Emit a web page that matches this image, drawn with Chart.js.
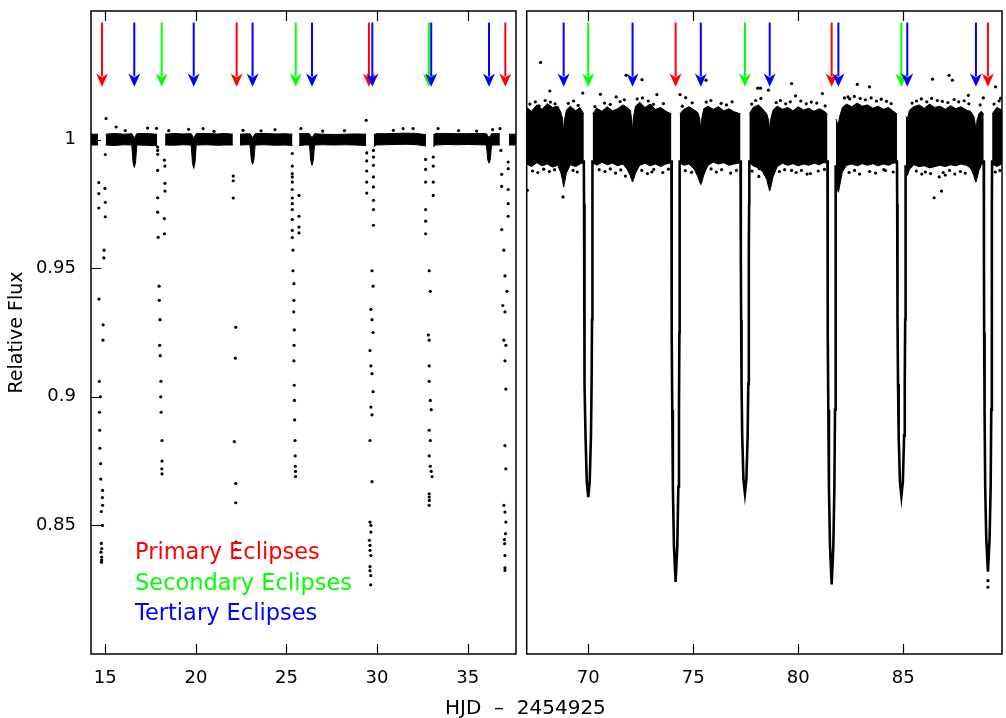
<!DOCTYPE html>
<html>
<head>
<meta charset="utf-8">
<script src="https://cdn.jsdelivr.net/npm/chart.js@4.4.1/dist/chart.umd.min.js"></script>
<style>
  body { margin: 0; background: #fff; }
  #wrap { position: relative; width: 1006px; height: 718px; background: #fff; overflow: hidden; }
  #left { position: absolute; left: 0; top: 0; }
  #right { position: absolute; left: 520px; top: 0; }
  #xtitle { position: absolute; left: 445px; top: 696px; font: 20px "DejaVu Sans", sans-serif; line-height: 22px; white-space: pre; color: #000; }
</style>
</head>
<body>
<div id="wrap">
  <canvas id="left" width="520" height="718"></canvas>
  <canvas id="right" width="486" height="718"></canvas>
  <div id="xtitle">HJD  –  2454925</div>
</div>
<script>
// axis ticks
var xTicksLeft = [15, 20, 25, 30, 35];
var xTicksRight = [70, 75, 80, 85];
var yTicks = [0.85, 0.9, 0.95, 1];

// eclipse times (arrows)
var primaryTimes = [14.82, 22.25, 29.55, 37.08, 74.16, 81.59, 89.03];
var secondaryTimes = [18.11, 25.51, 32.86, 70.00, 77.46, 84.91];
var tertiaryTimes = [16.60, 19.88, 23.13, 26.41, 29.74, 32.99, 36.18, 68.83, 72.11, 75.36, 78.64, 81.91, 85.19, 88.46];

// long cadence baseline (envelope of the out-of-eclipse points), null = gap
var leftBandX  = [14.21, 14.60, null,
  15.02, 15.5, 16.0, 16.46, 16.53, 16.60, 16.67, 16.74, 17.2, 17.86, null,
  18.30, 18.8, 19.3, 19.74, 19.81, 19.88, 19.95, 20.02, 20.6, 21.2, 21.6, 22.04, null,
  22.43, 22.9, 22.99, 23.06, 23.13, 23.20, 23.27, 23.8, 24.4, 24.9, 25.33, null,
  25.70, 26.0, 26.27, 26.34, 26.41, 26.48, 26.55, 27.0, 27.6, 28.2, 28.8, 29.40, null,
  29.82, 29.95, 30.4, 31.0, 31.6, 32.2, 32.70, null,
  33.10, 33.25, 33.8, 34.4, 35.0, 35.6, 36.04, 36.11, 36.18, 36.25, 36.32, 36.78, null,
  37.28, 37.67];
var leftBandHi = [1.0021, 1.0021, null,
  1.0021, 1.0024, 1.0021, 1.0023, 1.0015, 1.0005, 1.0015, 1.0023, 1.0024, 1.0021, null,
  1.0021, 1.0024, 1.0022, 1.0023, 1.0015, 1.0005, 1.0015, 1.0023, 1.0024, 1.0022, 1.0024, 1.0021, null,
  1.0021, 1.0023, 1.0023, 1.0015, 1.0007, 1.0015, 1.0023, 1.0024, 1.0022, 1.0023, 1.0021, null,
  1.0023, 1.0024, 1.0023, 1.0015, 1.0007, 1.0015, 1.0023, 1.0021, 1.0020, 1.0021, 1.0022, 1.0021, null,
  1.0019, 1.0023, 1.0023, 1.0024, 1.0025, 1.0024, 1.0019, null,
  1.0019, 1.0024, 1.0024, 1.0023, 1.0023, 1.0024, 1.0023, 1.0015, 1.0008, 1.0015, 1.0023, 1.0023, null,
  1.0021, 1.0021];
var leftBandLo = [0.9979, 0.9979, null,
  0.9979, 0.9977, 0.9980, 0.9979, 0.9912, 0.9892, 0.9912, 0.9979, 0.9978, 0.9976, null,
  0.9979, 0.9978, 0.9980, 0.9979, 0.9910, 0.9888, 0.9910, 0.9979, 0.9980, 0.9978, 0.9979, 0.9979, null,
  0.9979, 0.9980, 0.9979, 0.9920, 0.9904, 0.9920, 0.9979, 0.9980, 0.9978, 0.9979, 0.9977, null,
  0.9977, 0.9979, 0.9979, 0.9918, 0.9900, 0.9918, 0.9979, 0.9980, 0.9979, 0.9980, 0.9979, 0.9977, null,
  0.9971, 0.9979, 0.9980, 0.9981, 0.9982, 0.9980, 0.9975, null,
  0.9973, 0.9979, 0.9981, 0.9980, 0.9981, 0.9980, 0.9979, 0.9922, 0.9908, 0.9922, 0.9979, 0.9979, null,
  0.9979, 0.9979];

// long cadence points inside the eclipses
var dotsP1 = [[14.64,0.9833],[14.98,0.981],[14.64,0.979],[15.00,0.9756],[14.64,0.9734],[15.00,0.970],[14.93,0.957],[14.92,0.954],
  [14.65,0.938],[14.88,0.928],[14.87,0.922],[14.67,0.906],[14.73,0.900],[14.68,0.894],[14.69,0.887],[14.70,0.880],[14.74,0.874],
  [14.75,0.868],[14.85,0.8636],[14.84,0.8608],[14.85,0.8578],[14.78,0.8554],[14.84,0.850],[14.78,0.843],[14.80,0.841],
  [14.76,0.8396],[14.80,0.8377],[14.79,0.8357],[14.80,0.8365]];
var dotsS1 = [[17.89,0.9971],[17.89,0.9943],[18.26,0.992],[18.29,0.9897],[17.89,0.988],[18.29,0.983],[18.29,0.980],[17.89,0.9774],
  [17.89,0.9718],[18.26,0.9693],[18.26,0.9634],[17.92,0.962],[17.97,0.943],[17.98,0.9375],[18.02,0.930],[18.00,0.920],
  [18.03,0.916],[18.07,0.906],[18.06,0.900],[18.08,0.894],[18.13,0.883],[18.13,0.875],[18.12,0.872],[18.13,0.870]];
var dotsP2 = [[22.06,0.9858],[22.06,0.984],[22.06,0.9773],[22.20,0.927],[22.18,0.915],[22.12,0.8826],[22.20,0.8663],
  [22.20,0.8588],[22.21,0.8435],[22.21,0.8406],[22.21,0.8374]];
var dotsS2 = [[25.32,0.9946],[25.32,0.9897],[25.32,0.9868],[25.32,0.9855],[25.32,0.9835],[25.32,0.9806],[25.69,0.9783],
  [25.32,0.9773],[25.32,0.9751],[25.32,0.9728],[25.69,0.9702],[25.32,0.9689],[25.69,0.966],[25.32,0.9647],[25.69,0.9637],
  [25.32,0.9619],[25.36,0.957],[25.36,0.949],[25.41,0.944],[25.41,0.9375],[25.40,0.933],[25.43,0.926],[25.42,0.920],
  [25.41,0.914],[25.43,0.9045],[25.44,0.8986],[25.45,0.891],[25.47,0.883],[25.48,0.877],[25.49,0.873],[25.50,0.871],[25.50,0.869]];
var dotsP3 = [[29.43,0.9948],[29.80,0.9958],[29.80,0.9932],[29.43,0.9917],[29.80,0.990],[29.43,0.9878],[29.80,0.9855],
  [29.43,0.9835],[29.80,0.9816],[29.43,0.9792],[29.80,0.9764],[29.80,0.9728],[29.80,0.9667],[29.72,0.949],[29.78,0.943],
  [29.66,0.934],[29.72,0.930],[29.78,0.925],[29.61,0.918],[29.66,0.912],[29.72,0.909],[29.78,0.902],[29.66,0.896],
  [29.72,0.893],[29.61,0.883],[29.72,0.867],[29.61,0.8513],[29.66,0.850],[29.66,0.8474],[29.58,0.8442],[29.61,0.8422],
  [29.61,0.8403],[29.66,0.8383],[29.61,0.834],[29.61,0.8324],[29.65,0.8305],[29.65,0.8269]];
var dotsS3 = [[32.68,0.9923],[33.10,0.9932],[33.10,0.9897],[32.68,0.9884],[32.68,0.9835],[33.10,0.9835],[33.10,0.9783],
  [32.68,0.9728],[32.68,0.9683],[32.68,0.9634],[32.88,0.949],[32.94,0.941],[32.83,0.924],[32.88,0.922],[32.88,0.912],
  [32.88,0.906],[32.94,0.8986],[32.99,0.895],[32.88,0.887],[32.94,0.883],[32.88,0.877],[32.94,0.873],[32.99,0.871],
  [33.04,0.869],[32.88,0.8623],[32.88,0.861],[32.89,0.8597],[32.88,0.8578]];
var dotsP4 = [[36.84,0.9958],[37.24,0.9913],[37.24,0.9887],[36.88,0.9865],[36.88,0.9818],[37.24,0.9806],[37.24,0.9751],
  [37.24,0.9702],[36.88,0.965],[37.00,0.957],[37.06,0.947],[37.17,0.941],[36.94,0.9355],[37.06,0.933],[37.00,0.922],
  [37.11,0.920],[37.06,0.914],[37.11,0.903],[37.06,0.881],[37.11,0.872],[37.00,0.8578],[37.06,0.8552],[37.11,0.8513],
  [37.09,0.8468],[37.03,0.8445],[37.04,0.8429],[37.06,0.8383],[37.06,0.8335],[37.06,0.8325]];
var leftOutliers = [[15.04,1.0082],[15.6,1.0049],[17.33,1.0045],[17.83,1.0044],[19.6,1.004],[20.4,1.0043],[24.37,1.0039],
  [25.8,1.0043],[29.4,1.0075],[31.44,1.0043],[31.99,1.0043],[33.37,1.0043],[36.38,1.0039],[36.79,1.0043],[15.0,0.9942],
  [17.89,0.9958],[16.1,1.0035],[18.5,1.0035],[21.0,1.0032],[22.6,1.0036],[23.6,1.0034],[27.0,1.0033],[28.2,1.0035],
  [30.9,1.0036],[34.5,1.0035],[35.5,1.0033]];

// short cadence: envelope of the dense band between the deep eclipses
var rightBandX = [67.07, 67.3, 67.55, 67.8, 68.05, 68.3, 68.55, 68.70, 68.78, 68.83, 68.88, 68.96, 69.15, 69.4, 69.6, 69.79, null,
  70.21, 70.4, 70.65, 70.9, 71.15, 71.4, 71.65, 71.85, 72.0, 72.06, 72.11, 72.16, 72.25, 72.45, 72.7, 72.95, 73.2, 73.45, 73.7, 73.96, null,
  74.36, 74.55, 74.8, 75.05, 75.22, 75.31, 75.36, 75.41, 75.5, 75.7, 75.95, 76.2, 76.45, 76.7, 76.95, 77.25, null,
  77.67, 77.85, 78.1, 78.3, 78.5, 78.59, 78.64, 78.69, 78.8, 79.0, 79.25, 79.5, 79.75, 80.0, 80.25, 80.5, 80.75, 81.0, 81.2, 81.39, null,
  81.79, 81.86, 81.91, 81.97, 82.1, 82.3, 82.55, 82.8, 83.05, 83.3, 83.55, 83.8, 84.05, 84.3, 84.5, 84.70, null,
  85.12, 85.19, 85.3, 85.5, 85.75, 86.0, 86.25, 86.5, 86.75, 87.0, 87.25, 87.5, 87.75, 88.0, 88.2, 88.36, 88.41, 88.46, 88.51, 88.6, 88.7, 88.83, null,
  89.23, 89.45, 89.70];
var rightBandHi = [1.0125, 1.0110, 1.0135, 1.0118, 1.0140, 1.0125, 1.0130, 1.0105, 1.0080, 1.0030, 1.0080, 1.0115, 1.0130, 1.0112, 1.0125, 1.0100, null,
  1.0100, 1.0122, 1.0110, 1.0128, 1.0112, 1.0120, 1.0135, 1.0125, 1.0115, 1.0085, 1.0035, 1.0090, 1.0130, 1.0145, 1.0125, 1.0138, 1.0118, 1.0125, 1.0110, 1.0100, null,
  1.0100, 1.0118, 1.0128, 1.0115, 1.0105, 1.0080, 1.0035, 1.0085, 1.0120, 1.0130, 1.0118, 1.0128, 1.0112, 1.0120, 1.0108, 1.0100, null,
  1.0100, 1.0125, 1.0135, 1.0120, 1.0100, 1.0075, 1.0035, 1.0080, 1.0115, 1.0130, 1.0118, 1.0125, 1.0112, 1.0128, 1.0115, 1.0122, 1.0110, 1.0120, 1.0112, 1.0100, null,
  1.0080, 1.0065, 1.0060, 1.0090, 1.0125, 1.0138, 1.0128, 1.0142, 1.0130, 1.0135, 1.0122, 1.0130, 1.0118, 1.0125, 1.0112, 1.0100, null,
  1.0090, 1.0080, 1.0115, 1.0128, 1.0135, 1.0122, 1.0138, 1.0125, 1.0130, 1.0118, 1.0132, 1.0120, 1.0128, 1.0115, 1.0110, 1.0090, 1.0070, 1.0035, 1.0075, 1.0100, 1.0110, 1.0100, null,
  1.0100, 1.0125, 1.0115];
var rightBandLo = [0.9905, 0.9895, 0.9910, 0.9898, 0.9905, 0.9893, 0.9900, 0.9870, 0.9840, 0.9815, 0.9835, 0.9870, 0.9902, 0.9895, 0.9905, 0.9910, null,
  0.9910, 0.9900, 0.9912, 0.9902, 0.9908, 0.9898, 0.9905, 0.9885, 0.9860, 0.9845, 0.9835, 0.9845, 0.9870, 0.9900, 0.9908, 0.9898, 0.9905, 0.9895, 0.9905, 0.9910, null,
  0.9910, 0.9900, 0.9905, 0.9885, 0.9855, 0.9835, 0.9825, 0.9835, 0.9862, 0.9900, 0.9912, 0.9905, 0.9910, 0.9900, 0.9905, 0.9910, null,
  0.9910, 0.9898, 0.9890, 0.9875, 0.9845, 0.9815, 0.9800, 0.9815, 0.9855, 0.9895, 0.9908, 0.9900, 0.9906, 0.9898, 0.9905, 0.9900, 0.9908, 0.9902, 0.9910, 0.9910, null,
  0.9850, 0.9810, 0.9795, 0.9820, 0.9875, 0.9900, 0.9905, 0.9898, 0.9906, 0.9900, 0.9906, 0.9898, 0.9905, 0.9900, 0.9908, 0.9910, null,
  0.9870, 0.9860, 0.9885, 0.9902, 0.9895, 0.9898, 0.9890, 0.9895, 0.9900, 0.9895, 0.9902, 0.9898, 0.9905, 0.9900, 0.9890, 0.9860, 0.9845, 0.9835, 0.9850, 0.9880, 0.9900, 0.9910, null,
  0.9905, 0.9895, 0.9905];

// deep eclipses in short cadence: ingress/egress tracks
var trackS70 = [[69.79,0.992],[69.80,0.975],[69.81,0.955],[69.82,0.93],[69.84,0.905],[69.87,0.885],[69.93,0.867],[70.00,0.861],
  [70.07,0.867],[70.13,0.885],[70.16,0.905],[70.18,0.93],[70.19,0.955],[70.20,0.975],[70.21,0.992]];
var trackP74 = [[73.96,0.992],[73.97,0.975],[73.97,0.955],[73.98,0.925],[74.00,0.895],[74.03,0.865],[74.08,0.842],[74.16,0.828],
  [74.24,0.842],[74.29,0.865],[74.32,0.895],[74.34,0.925],[74.35,0.955],[74.35,0.975],[74.36,0.992]];
var trackS77 = [[77.25,0.992],[77.26,0.975],[77.27,0.955],[77.28,0.93],[77.30,0.905],[77.33,0.885],[77.39,0.868],[77.46,0.8625],
  [77.53,0.868],[77.59,0.885],[77.62,0.905],[77.64,0.93],[77.65,0.955],[77.66,0.975],[77.67,0.992]];
var trackP81 = [[81.39,0.992],[81.40,0.975],[81.40,0.955],[81.41,0.925],[81.43,0.895],[81.46,0.865],[81.51,0.842],[81.59,0.827],
  [81.67,0.842],[81.72,0.865],[81.75,0.895],[81.77,0.925],[81.78,0.955],[81.78,0.975],[81.79,0.99]];
var trackS84 = [[84.70,0.992],[84.71,0.975],[84.72,0.955],[84.73,0.93],[84.75,0.905],[84.78,0.885],[84.84,0.867],[84.91,0.8614],
  [84.98,0.867],[85.04,0.885],[85.07,0.905],[85.09,0.93],[85.10,0.955],[85.11,0.975],[85.12,0.99]];
var trackP89 = [[88.83,0.992],[88.84,0.975],[88.84,0.955],[88.85,0.925],[88.87,0.895],[88.90,0.865],[88.95,0.845],[89.03,0.832],
  [89.11,0.845],[89.16,0.865],[89.19,0.895],[89.21,0.925],[89.22,0.955],[89.22,0.975],[89.23,0.992]];
var rightOutliers = [[67.73,1.030],[71.8,1.025],[72.56,1.0233],[75.61,1.0231],[78.07,1.020],[78.2,1.020],[79.68,1.0218],
  [78.58,1.0192],[82.81,1.0215],[83.39,1.0205],[86.39,1.0235],[87.18,1.025],[87.34,1.0231],[89.39,1.0205],[69.74,1.0181],
  [70.58,1.0176],[71.33,1.0166],[68.17,1.0189],[73.27,1.0175],[74.37,1.0175],[74.64,1.0163],[79.87,1.017],[81.15,1.0179],
  [82.37,1.0166],[88.1,1.0172],[88.81,1.0162],[89.63,1.016],
  [68.8,0.9777],[86.47,0.9774],[86.82,0.980],[86.71,0.9855],[78.14,0.9887],[78.12,0.9857],[71.77,0.9858],[73.03,0.9874],
  [67.1,0.9803],[80.58,0.9868],[79.68,0.988],[84.07,0.9883],[87.0,0.9862],[89.03,0.826],[89.03,0.8285],
  [67.22,1.0138],[67.48,1.0147],[67.66,1.0131],[67.95,1.0152],[68.2,1.0146],[68.42,1.0139],[69.05,1.0141],[69.3,1.0150],
  [69.52,1.0133],[70.32,1.0128],[70.78,1.0142],[71.05,1.0137],[71.52,1.0148],[71.72,1.0155],[72.33,1.0158],[72.58,1.0162],
  [72.86,1.0150],[73.1,1.0137],[73.58,1.0140],[74.48,1.0130],[74.95,1.0143],[75.62,1.0146],[75.84,1.0152],[76.33,1.0141],
  [76.58,1.0135],[76.85,1.0147],[77.78,1.0138],[77.97,1.0152],[78.22,1.0160],[78.95,1.0144],[79.15,1.0152],[79.4,1.0139],
  [79.62,1.0147],[80.12,1.0150],[80.38,1.0139],[80.62,1.0146],[80.88,1.0142],[81.28,1.0131],[82.2,1.0162],[82.45,1.0158],
  [82.67,1.0168],[82.95,1.0160],[83.2,1.0155],[83.47,1.0162],[83.72,1.0150],[83.95,1.0157],[84.2,1.0149],[84.42,1.0140],
  [85.42,1.0142],[85.63,1.0150],[85.86,1.0158],[86.12,1.0147],[86.35,1.0160],[86.62,1.0152],[86.86,1.0149],[87.12,1.0144],
  [87.42,1.0156],[87.64,1.0147],[87.9,1.0151],[88.12,1.0139],[88.66,1.0135],[89.32,1.0138],[89.56,1.0150],
  [67.35,0.9878],[67.6,0.9872],[67.88,0.9885],[68.15,0.9876],[68.4,0.9883],[69.28,0.9880],[69.48,0.9874],[70.52,0.9883],
  [70.8,0.9876],[71.05,0.9886],[71.3,0.9870],[71.55,0.9882],[72.55,0.9880],[72.82,0.9868],[73.12,0.9884],[73.55,0.9872],
  [73.82,0.9885],[74.62,0.9879],[74.92,0.9873],[75.85,0.9886],[76.1,0.9874],[76.35,0.9883],[76.78,0.9870],[77.05,0.9880],
  [77.8,0.9878],[79.1,0.9876],[79.35,0.9883],[79.9,0.9872],[80.15,0.9880],[80.42,0.9866],[80.95,0.9878],[81.25,0.9884],
  [82.42,0.9872],[82.68,0.9880],[82.92,0.9866],[83.4,0.9876],[83.68,0.9870],[84.15,0.9880],[84.52,0.9874],[85.62,0.9878],
  [85.88,0.9866],[86.05,0.9874],[86.3,0.9868],[86.9,0.9872],[87.2,0.9880],[87.45,0.9866],[87.72,0.9876],[87.95,0.9870],
  [89.38,0.9874],[89.6,0.9880]];

var legendLabels = ['Primary Eclipses', 'Secondary Eclipses', 'Tertiary Eclipses'];
var legendColors = ['#ff0000', '#00ff00', '#0000ff'];

var FONT = '"DejaVu Sans", sans-serif';
Chart.defaults.font.family = FONT;
Chart.defaults.color = '#000';

function toPoints(pairs) {
  return pairs.map(function (p) { return { x: p[0], y: p[1] }; });
}

// split the envelope arrays at nulls, one filled band per piece
function bandDatasets(xs, hi, lo) {
  var out = [];
  var top = [], bottom = [];
  function flush() {
    if (top.length) {
      out.push({ type: 'line', data: top, fill: '+1', backgroundColor: '#000', borderColor: '#000',
        borderWidth: 1, pointRadius: 0, tension: 0 });
      out.push({ type: 'line', data: bottom, fill: false, borderColor: '#000',
        borderWidth: 1, pointRadius: 0, tension: 0 });
    }
    top = []; bottom = [];
  }
  for (var i = 0; i < xs.length; i++) {
    if (xs[i] === null) { flush(); continue; }
    top.push({ x: xs[i], y: hi[i] });
    bottom.push({ x: xs[i], y: lo[i] });
  }
  flush();
  return out;
}

function dots(pairs) {
  return { type: 'scatter', data: toPoints(pairs), pointRadius: 1.6, pointBackgroundColor: '#000',
    pointBorderWidth: 0, showLine: false };
}

function track(pairs) {
  return { type: 'line', data: toPoints(pairs), borderColor: '#000', borderWidth: 2.6, pointRadius: 0,
    fill: false, tension: 0 };
}

var framePlugin = {
  id: 'frame',
  afterDatasetsDraw: function (chart, args, opts) {
    var ctx = chart.ctx, xs = chart.scales.x, ys = chart.scales.y;
    var groups = [[primaryTimes, legendColors[0]], [secondaryTimes, legendColors[1]], [tertiaryTimes, legendColors[2]]];
    var yTop = ys.getPixelForValue(1.0455), yTip = ys.getPixelForValue(1.0205), yBase = ys.getPixelForValue(1.0257);
    ctx.save();
    groups.forEach(function (g) {
      ctx.strokeStyle = g[1];
      ctx.fillStyle = g[1];
      ctx.lineWidth = 2;
      g[0].forEach(function (t) {
        if (t < xs.min || t > xs.max) return;
        var px = xs.getPixelForValue(t);
        ctx.beginPath();
        ctx.moveTo(px, yTop);
        ctx.lineTo(px, yBase + 3);
        ctx.stroke();
        ctx.beginPath();
        ctx.moveTo(px, yTip);
        ctx.lineTo(px - 6, yBase);
        ctx.lineTo(px, yBase + 4);
        ctx.lineTo(px + 6, yBase);
        ctx.closePath();
        ctx.fill();
      });
    });
    if (opts.legend) {
      ctx.font = '22.5px ' + FONT;
      ctx.textBaseline = 'middle';
      ctx.textAlign = 'left';
      var lx = xs.getPixelForValue(16.64);
      var ly = [0.8392, 0.8272, 0.8155];
      legendLabels.forEach(function (txt, i) {
        ctx.fillStyle = legendColors[i];
        ctx.fillText(txt, lx, ys.getPixelForValue(ly[i]));
      });
    }
    ctx.restore();
  },
  afterDraw: function (chart, args, opts) {
    var ctx = chart.ctx, a = chart.chartArea, xs = chart.scales.x, ys = chart.scales.y;
    ctx.save();
    ctx.strokeStyle = '#000';
    ctx.lineWidth = 1.5;
    ctx.strokeRect(a.left, a.top, a.right - a.left, a.bottom - a.top);
    ctx.lineWidth = 1.2;
    ctx.beginPath();
    opts.xTicks.forEach(function (v) {
      var px = Math.round(xs.getPixelForValue(v)) + 0.5;
      ctx.moveTo(px, a.top); ctx.lineTo(px, a.top + 10);
      ctx.moveTo(px, a.bottom); ctx.lineTo(px, a.bottom - 10);
    });
    if (opts.yTicks) {
      yTicks.forEach(function (v) {
        var py = Math.round(ys.getPixelForValue(v)) + 0.5;
        ctx.moveTo(a.left, py); ctx.lineTo(a.left + 10, py);
      });
    }
    ctx.stroke();
    ctx.restore();
  }
};

function xScale(min, max, ticks) {
  return {
    type: 'linear', min: min, max: max,
    grid: { display: false, drawTicks: false }, border: { display: false },
    ticks: { font: { size: 18 }, color: '#000', padding: 14, maxRotation: 0, autoSkip: false },
    afterBuildTicks: function (s) { s.ticks = ticks.map(function (v) { return { value: v }; }); },
    afterFit: function (s) { s.height = 64; s.paddingLeft = 0; s.paddingRight = 0; }
  };
}

var leftDatasets = [dots(leftOutliers), dots(dotsP1), dots(dotsS1), dots(dotsP2), dots(dotsS2), dots(dotsP3), dots(dotsS3), dots(dotsP4)]
  .concat(bandDatasets(leftBandX, leftBandHi, leftBandLo));

var rightDatasets = [dots(rightOutliers), track(trackS70), track(trackP74), track(trackS77), track(trackP81), track(trackS84), track(trackP89)]
  .concat(bandDatasets(rightBandX, rightBandHi, rightBandLo));

new Chart(document.getElementById('left'), {
  type: 'scatter',
  data: { datasets: leftDatasets },
  options: {
    responsive: false, animation: false, events: [],
    layout: { padding: { left: 0, right: 4, top: 11, bottom: 0 } },
    plugins: { legend: { display: false }, tooltip: { enabled: false },
      frame: { xTicks: xTicksLeft, yTicks: true, legend: true } },
    scales: {
      x: xScale(14.21, 37.67, xTicksLeft),
      y: {
        type: 'linear', min: 0.80, max: 1.05,
        grid: { display: false, drawTicks: false }, border: { display: false },
        ticks: { font: { size: 18 }, color: '#000', padding: 15, callback: function (v) { return String(v); } },
        afterBuildTicks: function (s) { s.ticks = yTicks.map(function (v) { return { value: v }; }); },
        afterFit: function (s) { s.width = 91; s.paddingTop = 0; s.paddingBottom = 0; },
        title: { display: true, text: 'Relative Flux', font: { size: 19 }, color: '#000', padding: { top: 6, bottom: 0 } }
      }
    }
  },
  plugins: [framePlugin]
});

new Chart(document.getElementById('right'), {
  type: 'scatter',
  data: { datasets: rightDatasets },
  options: {
    responsive: false, animation: false, events: [],
    layout: { padding: { left: 6.7, right: 1.5, top: 11, bottom: 0 } },
    plugins: { legend: { display: false }, tooltip: { enabled: false },
      frame: { xTicks: xTicksRight, yTicks: false, legend: false } },
    scales: {
      x: xScale(67.07, 89.70, xTicksRight),
      y: { type: 'linear', min: 0.80, max: 1.05, display: false }
    }
  },
  plugins: [framePlugin]
});
</script>
</body>
</html>
